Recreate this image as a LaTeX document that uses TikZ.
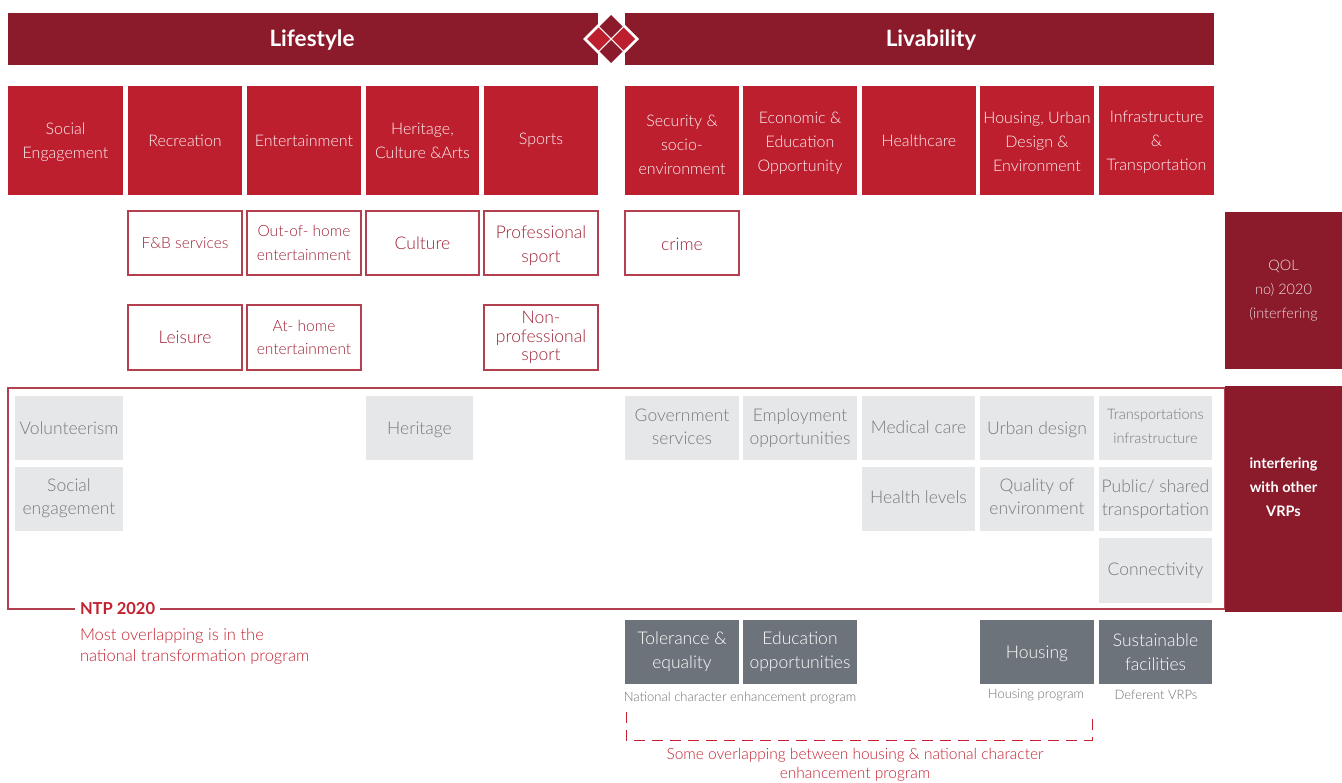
\documentclass[tikz,border=0pt]{standalone}
\usepackage{fontspec}
\IfFontExistsTF{Lato Light}{\setmainfont{Lato Light}[BoldFont=Lato Bold]}{\setmainfont{Lato}}
\definecolor{hdrred}{HTML}{8B1A2B}
\definecolor{catred}{HTML}{BE1F2F}
\definecolor{obord}{HTML}{B3404F}
\definecolor{otext}{HTML}{9E2336}
\definecolor{gfill}{HTML}{E6E7E8}
\definecolor{gtext}{HTML}{76797C}
\definecolor{dgray}{HTML}{6D737A}
\definecolor{ntpred}{HTML}{C4212F}
\definecolor{captext}{HTML}{6E7073}
% \bx[text y offset, down]{name}{style}{x1}{y1}{x2}{y2}{text}
\newcommand\bx[8][0]{%
  \node[#3,minimum width={(#6)-(#4)},minimum height={(#7)-(#5)}] (#2) at ({((#4)+(#6))/2},{((#5)+(#7))/2}) {};
  \node[#3,fill=none,draw=none] (#2-t) at ({((#4)+(#6))/2},{((#5)+(#7))/2+(#1)}) {#8};}
\newcommand\fs[2]{\fontsize{#1}{#2}\selectfont}
\begin{document}
\begin{tikzpicture}[x=1pt,y=-1pt,
  every node/.style={inner sep=0pt,outer sep=0pt},
  bar/.style={fill=hdrred},
  hdrtext/.style={text=white,font=\bfseries\fs{22.5}{26}},
  cat/.style={fill=catred,text=white!95!catred,align=center,font=\fs{16}{24}},
  obox/.style={draw=obord,line width=1.1pt,fill=white,text=otext,align=center,font=\fs{17.5}{24}},
  gbox/.style={fill=gfill,text=gtext,align=center,font=\fs{17.5}{23}},
  dbox/.style={fill=dgray,text=white,align=center,font=\fs{17.5}{24}},
  captn/.style={text=captext,font=\fs{13}{14}},
  ntp/.style={text=ntpred}
]
\useasboundingbox (0,0) rectangle (1342,783);

% headers
\node[bar,minimum width=590pt,minimum height=52pt,anchor=north west] (lifebar) at (8,13) {};
\node[bar,minimum width=589pt,minimum height=52pt,anchor=north west] (livbar) at (625,13) {};
\node[hdrtext] (lifetxt) at (312,40) {Lifestyle};
\node[hdrtext] (livtxt) at (931,40) {Livability};

% logo
\fill[white] (611,11) -- (639,39) -- (611,67) -- (583,39) -- cycle;
\fill[hdrred] (611,15) -- (622.5,26.5) -- (611,38) -- (599.5,26.5) -- cycle;
\fill[hdrred] (611,40) -- (622.5,51.5) -- (611,63) -- (599.5,51.5) -- cycle;
\fill[catred] (598.5,27.5) -- (610,39) -- (598.5,50.5) -- (587,39) -- cycle;
\fill[catred] (623.5,27.5) -- (635,39) -- (623.5,50.5) -- (612,39) -- cycle;

% category boxes
\bx[2]{c1}{cat}{8}{86}{123}{195}{Social\\Engagement}
\bx{c2}{cat}{128}{86}{242}{195}{Recreation}
\bx{c3}{cat}{247}{86}{361}{195}{Entertainment}
\bx{c4}{cat}{366}{86}{479}{195}{Heritage,\\Culture \&Arts}
\bx{c5}{cat}{484}{86}{598}{195}{Sports}
\bx[4]{c6}{cat}{625}{86}{739}{195}{Security \&\\socio-\\environment}
\bx[3]{c7}{cat}{743}{86}{857}{195}{Economic \&\\Education\\Opportunity}
\bx{c8}{cat}{862}{86}{976}{195}{Healthcare}
\bx[1.5]{c9}{cat}{980}{86}{1094}{195}{Housing, Urban\\Design \&\\Environment}
\bx[1.5]{c10}{cat}{1099}{86}{1214}{195}{Infrastructure\\\&\\Transportation}

% outlined boxes
\bx{o1}{obox,font=\fs{15.5}{24}}{128}{211}{242}{275}{F\&B services}
\bx{o2}{obox,font=\fs{15.5}{24}}{247}{211}{361}{275}{Out-of- home\\entertainment}
\bx{o3}{obox}{366}{211}{479}{275}{Culture}
\bx[3]{o4}{obox}{484}{211}{598}{275}{Professional\\sport}
\bx[1.5]{o5}{obox}{625}{211}{739}{275}{crime}
\bx{o6}{obox}{128}{305}{242}{370}{Leisure}
\bx{o7}{obox,font=\fs{15.5}{23}}{247}{305}{361}{370}{At- home\\entertainment}
\bx{o8}{obox,font=\fs{17.5}{18.5}}{484}{305}{598}{370}{Non-\\professional\\sport}

% QOL box
\bx{qol}{bar,text=white!85!hdrred,align=center,font=\fs{14.5}{24}}{1225}{212}{1342}{369}{QOL\\no) 2020\\(interfering}

% NTP frame
\draw[obord,line width=1.3pt] (8,388) rectangle (1225,609);
\bx[-12]{vrp}{bar,text=white,align=center,font=\bfseries\fs{14.5}{24}}{1225}{386}{1342}{612}{interfering\\with other\\VRPs}
\node[ntp,fill=white,font=\bfseries\fs{16.5}{18},anchor=west,inner xsep=5pt,inner ysep=2pt] (ntplbl) at (75,609) {NTP 2020};
\node[ntp,font=\fs{16.5}{21},align=left,anchor=north west] (ntpdesc) at (80,628) {Most overlapping is in the\\national transformation program};

% gray boxes
\bx{g1}{gbox}{15}{396}{123}{460}{Volunteerism}
\bx[-1]{g2}{gbox}{15}{467}{123}{531}{Social\\engagement}
\bx[1.5]{g3}{gbox}{366}{396}{473}{460}{Heritage}
\bx[-1]{g4}{gbox}{625}{396}{739}{460}{Government\\services}
\bx{g5}{gbox}{743}{396}{857}{460}{Employment\\opportunities}
\bx[-1]{g6}{gbox}{862}{396}{975}{460}{Medical care}
\bx[2]{g7}{gbox}{980}{396}{1094}{460}{Urban design}
\bx[-2]{g8}{gbox,font=\fs{14.5}{24}}{1099}{396}{1212}{460}{Transportations\\infrastructure}
\bx[-2]{g9}{gbox}{862}{467}{975}{531}{Health levels}
\bx[-2]{g10}{gbox}{980}{467}{1094}{531}{Quality of\\environment}
\bx{g11}{gbox}{1099}{467}{1212}{531}{Public/ shared\\transportation}
\bx{g12}{gbox}{1099}{538}{1212}{603}{Connectivity}

% dark gray boxes
\bx{d1}{dbox}{625}{620}{739}{684}{Tolerance \&\\equality}
\bx{d2}{dbox}{743}{620}{857}{684}{Education\\opportunities}
\bx[1.5]{d3}{dbox}{980}{620}{1094}{684}{Housing}
\bx{d4}{dbox}{1099}{620}{1212}{684}{Sustainable\\facilities}

% captions
\node[captn] (cap1) at (740,698) {National character enhancement program};
\node[captn] (cap2) at (1036,695) {Housing program};
\node[captn] (cap3) at (1156,695) {Deferent VRPs};

% dashed bracket
\coordinate (bl) at (626,712);
\coordinate (br) at (1092,712);
\draw[ntpred,line width=1pt,dash pattern=on 11pt off 7pt] (bl) -- ++(0,28) -| (br);
\node[ntp,font=\fs{15.5}{19},align=center] (overlap) at (855,765) {Some overlapping between housing \& national character\\enhancement program};
\end{tikzpicture}
\end{document}
